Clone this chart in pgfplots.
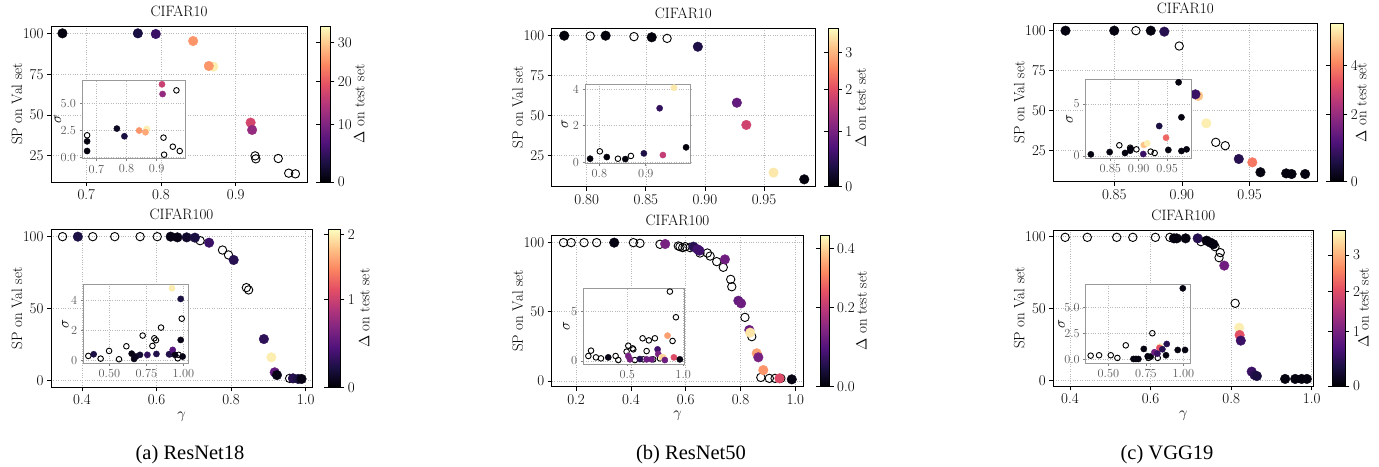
\RequirePackage{fix-cm}
\documentclass[border=0pt]{standalone}
\usepackage{pgfplots}
\pgfplotsset{compat=1.18}
\usepackage{fontspec}
\newfontfamily\capfont{Liberation Serif}
\newcommand\mf{\fontsize{15}{18}\selectfont}
\newcommand\smf{\fontsize{12.3}{14}\selectfont}
\pgfplotsset{
  colormap={magma}{rgb255=(0,0,4) rgb255=(28,16,68) rgb255=(79,18,123) rgb255=(129,37,129) rgb255=(181,54,122) rgb255=(229,80,100) rgb255=(251,135,97) rgb255=(254,194,135) rgb255=(252,253,191)},
  mainax/.style={
    scale only axis, anchor=south west,
    tick align=outside, tick pos=left, major tick length=4pt,
    axis line style={line width=0.8pt},
    every tick/.style={black, line width=0.8pt},
    grid=major, grid style={dotted, gray!55, line width=0.6pt},
    tick label style={font=\mf},
    label style={font=\mf},
    title style={font=\mf, inner sep=0pt, yshift=3pt},
    /pgf/number format/assume math mode=true,
    ylabel={SP on Val set},
    every axis y label/.style={at={(axis description cs:0,0.5)}, anchor=center, xshift=-34pt, rotate=90, font=\mf},
    colormap name=magma,
    colorbar,
    colorbar shift/.style={xshift=13pt},
    point meta min=0,
  },
  cbar/.style 2 args={colorbar style={width=#1, tick align=outside, major tick length=4pt,
    every tick/.style={black, line width=0.8pt}, axis line style={line width=0.6pt},
    tick label style={font=\mf}, ylabel={$\Delta$ on test set},
    every axis y label/.style={at={(axis description cs:1,0.5)}, anchor=center, xshift=#2, rotate=90, font=\mf},
    /pgf/number format/assume math mode=true}},
  insetax/.style={
    scale only axis, anchor=south west,
    axis background/.style={fill=white},
    axis line style={gray!80, line width=0.9pt},
    tick align=outside, tick pos=left, major tick length=2.5pt,
    every tick/.style={gray, line width=0.6pt},
    grid=major, grid style={dotted, gray!55, line width=0.5pt},
    tick label style={font=\smf, text=black!65},
    ylabel={$\sigma$},
    every axis y label/.style={at={(axis description cs:0,0.5)}, anchor=center, xshift=#1, rotate=90, font=\mf},
    /pgf/number format/assume math mode=true,
    colormap name=magma, point meta min=0,
  },
  filledpts/.style={scatter, only marks, mark=*, mark size=#1,
    scatter/use mapped color={draw=mapped color, fill=mapped color},
    point meta={\thisrow{d}^0.8}},
  openpts/.style={only marks, mark=o, mark size=#1, black, mark options={line width=0.9pt, draw=black}},
}
\newcommand\sci{\node[anchor=south west, inner sep=0pt, font=\fontsize{8}{9}\selectfont, text=black!60] at (rel axis cs:0,1.02) {$\times10^{-3}$};}
\begin{document}
\begin{tikzpicture}
\path[use as bounding box] (0,0) rectangle (1379pt,466pt);

% ================= (a) top
\begin{axis}[mainax, cbar={10pt}{29pt}, at={(51pt,284pt)}, width=256pt, height=156pt,
  xmin=0.6527, xmax=0.9955, ymin=8.9, ymax=104.5,
  xtick={0.7,0.8,0.9}, xticklabels={0.7,0.8,0.9}, ytick={25,50,75,100},
  title={CIFAR10}, point meta max=17.03,
  colorbar style={ytick={0,6.310,10.986,15.197}, yticklabels={0,10,20,30}}]
\addplot[openpts=4.2pt] table[row sep=\\]{x y\\ 0.926 24.9\\ 0.927 23.1\\ 0.957 23.3\\ 0.971 14.3\\ 0.980 13.9\\};
\addplot[filledpts=4.8pt] table[row sep=\\]{x y d\\ 0.668 100 0.3\\ 0.769 100 2.4\\ 0.793 99.6 4.6\\ 0.843 95.3 25.4\\ 0.870 79.6 33.3\\ 0.864 80 25.4\\ 0.920 45.3 17.5\\ 0.922 40.8 11.7\\};
\end{axis}
\begin{axis}[insetax=-24pt, at={(82pt,307.3pt)}, width=103pt, height=78.7pt,
  xmin=0.652, xmax=0.9945, ymin=-0.09, ymax=7.2, point meta max=17.03,
  xtick={0.7,0.8,0.9}, xticklabels={0.7,0.8,0.9}, ytick={0,2.5,5}, yticklabels={0.0,2.5,5.0}]
\addplot[openpts=2.8pt] table[row sep=\\]{x y\\ 0.669 2.08\\ 0.966 6.24\\ 0.923 1.86\\ 0.954 1.02\\ 0.977 0.62\\ 0.925 0.28\\};
\addplot[filledpts=3.1pt] table[row sep=\\]{x y d\\ 0.669 1.52 0.3\\ 0.669 0.62 0.3\\ 0.768 2.70 1.0\\ 0.793 1.99 2.4\\ 0.842 2.52 25.4\\ 0.867 2.67 33.3\\ 0.863 2.36 27\\ 0.918 6.80 16.4\\ 0.920 5.90 11.7\\};
\sci
\end{axis}

% ================= (a) bottom
\begin{axis}[mainax, cbar={12pt}{24pt}, at={(51pt,78.7pt)}, width=261pt, height=158pt,
  colorbar shift/.style={xshift=10.5pt},
  xmin=0.317, xmax=1.017, ymin=-4.6, ymax=105.1,
  xtick={0.4,0.6,0.8,1.0}, xticklabels={0.4,0.6,0.8,1.0}, ytick={0,50,100},
  title={CIFAR100}, xlabel={$\gamma$}, point meta max=1.803,
  colorbar style={ytick={0,1,1.741}, yticklabels={0,1,2}}]
\addplot[openpts=4.2pt] table[row sep=\\]{x y\\ 0.348 100\\ 0.429 100\\ 0.488 100\\ 0.556 100\\ 0.602 100\\ 0.717 97.2\\ 0.777 90.7\\ 0.793 87.3\\ 0.841 64.6\\ 0.847 63\\ 0.957 1.6\\ 0.966 1.6\\};
\addplot[filledpts=4.8pt] table[row sep=\\]{x y d\\ 0.389 100 0.16\\ 0.638 100 0.03\\ 0.656 99.5 0.03\\ 0.681 99.5 0.09\\ 0.703 99.3 0.15\\ 0.741 95.8 0.28\\ 0.807 83.8 0.195\\ 0.888 28.9 0.23\\ 0.908 16.2 2.01\\ 0.917 5.8 0.46\\ 0.923 3.9 0.03\\ 0.966 1.6 0.195\\ 0.980 1.2 0.15\\ 0.989 1.2 0.03\\};
\end{axis}
\begin{axis}[insetax=-18pt, at={(83.3pt,102.7pt)}, width=105.4pt, height=79pt,
  xmin=0.324, xmax=1.036, ymin=-0.18, ymax=5.06, point meta max=1.803,
  xtick={0.5,0.75,1.0}, xticklabels={0.50,0.75,1.00}, ytick={0,2,4}]
\addplot[openpts=2.8pt] table[row sep=\\]{x y\\ 0.358 0.31\\ 0.441 0.13\\ 0.498 0.64\\ 0.565 0.09\\ 0.615 0.95\\ 0.725 1.66\\ 0.804 1.48\\ 0.815 1.35\\ 0.791 0.97\\ 0.849 2.19\\ 0.989 2.78\\ 0.910 0.42\\ 0.962 0.15\\ 0.968 0.38\\};
\addplot[filledpts=3.1pt] table[row sep=\\]{x y d\\ 0.394 0.42 0.16\\ 0.651 0.46 0.03\\ 0.667 0.11 0.03\\ 0.680 0.27 0.05\\ 0.707 0.38 0.1\\ 0.757 0.38 0.25\\ 0.818 0.44 0.18\\ 0.903 0.42 0.18\\ 0.928 0.71 0.4\\ 0.923 4.80 2.0\\ 0.982 4.09 0.15\\ 0.982 1.37 0.03\\ 0.944 0.38 0.03\\ 0.995 0.27 0.03\\};
\sci
\end{axis}

% ================= (b) top
\begin{axis}[mainax, cbar={9.5pt}{23pt}, at={(551.7pt,279.3pt)}, width=263.3pt, height=158.4pt,
  xmin=0.7704, xmax=0.9931, ymin=5.6, ymax=104.6,
  xtick={0.80,0.85,0.90,0.95}, xticklabels={0.80,0.85,0.90,0.95}, ytick={25,50,75,100},
  title={CIFAR10}, point meta max=2.848,
  colorbar style={ytick={0,1,1.741,2.408}, yticklabels={0,1,2,3}}]
\addplot[openpts=4.2pt] table[row sep=\\]{x y\\ 0.803 99.8\\ 0.840 99.4\\ 0.868 98.3\\};
\addplot[filledpts=4.8pt] table[row sep=\\]{x y d\\ 0.781 100 0.02\\ 0.816 100 0.02\\ 0.855 99 0.02\\ 0.894 93.1 0.29\\ 0.927 58.1 0.82\\ 0.935 44.2 1.83\\ 0.958 14.4 3.5\\ 0.984 10.2 0.02\\};
\end{axis}
\begin{axis}[insetax=-20pt, at={(585pt,302.7pt)}, width=105.7pt, height=79.3pt,
  xmin=0.769, xmax=0.997, ymin=-0.05, ymax=4.27, point meta max=2.848,
  xtick={0.8,0.9}, xticklabels={0.8,0.9}, ytick={0,2,4}]
\addplot[openpts=2.8pt] table[row sep=\\]{x y\\ 0.801 0.60\\ 0.840 0.20\\ 0.868 0.35\\};
\addplot[filledpts=3.1pt] table[row sep=\\]{x y d\\ 0.780 0.20 0.02\\ 0.816 0.29 0.02\\ 0.856 0.18 0.02\\ 0.896 0.49 0.29\\ 0.930 2.95 0.43\\ 0.937 0.40 1.7\\ 0.961 4.07 3.5\\ 0.987 0.82 0.02\\};
\sci
\end{axis}

% ================= (b) bottom
\begin{axis}[mainax, cbar={9.5pt}{32pt}, at={(551.7pt,79.3pt)}, width=251.6pt, height=151.7pt,
  colorbar shift/.style={xshift=12.7pt},
  xmin=0.111, xmax=1.029, ymin=-4.1, ymax=105.3,
  xtick={0.2,0.4,0.6,0.8,1.0}, xticklabels={0.2,0.4,0.6,0.8,1.0}, ytick={0,50,100},
  title={CIFAR100}, xlabel={$\gamma$}, point meta max=0.527,
  colorbar style={ytick={0,0.2760,0.4805}, yticklabels={0.0,0.2,0.4}}]
\addplot[openpts=4.2pt] table[row sep=\\]{x y\\ 0.154 99.8\\ 0.182 99.8\\ 0.229 99.8\\ 0.275 99.8\\ 0.409 99.8\\ 0.433 99.3\\ 0.506 98.6\\ 0.573 97.4\\ 0.579 96.9\\ 0.598 96.9\\ 0.589 96.2\\ 0.616 96.2\\ 0.652 92.3\\ 0.679 92.3\\ 0.689 90.1\\ 0.713 86.1\\ 0.737 82\\ 0.764 73.3\\ 0.768 68\\ 0.816 45.9\\ 0.841 32\\ 0.874 2.6\\ 0.905 1.9\\ 0.926 1.9\\ 0.947 1.9\\};
\addplot[filledpts=4.8pt] table[row sep=\\]{x y d\\ 0.339 99.8 0.005\\ 0.525 98.8 0.121\\ 0.628 96.9 0.042\\ 0.643 95 0.067\\ 0.650 94 0.067\\ 0.743 87.7 0.112\\ 0.792 57.9 0.100\\ 0.802 56 0.110\\ 0.832 36.8 0.110\\ 0.835 34.9 0.421\\ 0.859 20 0.340\\ 0.865 17.1 0.121\\ 0.883 7.9 0.329\\ 0.942 1.9 0.237\\ 0.987 1.2 0.005\\};
\end{axis}
\begin{axis}[insetax=-17pt, at={(583.3pt,102pt)}, width=101pt, height=75.7pt,
  xmin=0.107, xmax=1.01, ymin=-0.3, ymax=7.36, point meta max=0.527,
  xtick={0.5,1.0}, xticklabels={0.5,1.0}, ytick={0,5}]
\addplot[openpts=2.8pt] table[row sep=\\]{x y\\ 0.152 0.51\\ 0.176 1.05\\ 0.220 0.37\\ 0.265 0.27\\ 0.396 0.51\\ 0.420 0.10\\ 0.494 0.95\\ 0.509 1.55\\ 0.548 1.28\\ 0.554 1.18\\ 0.637 2.30\\ 0.693 2.09\\ 0.747 2.30\\ 0.673 1.01\\ 0.881 7.03\\ 0.935 4.43\\ 0.905 2.03\\ 0.643 0.17\\ 0.732 0.17\\ 0.568 0.10\\ 0.792 0.27\\};
\addplot[filledpts=3.1pt] table[row sep=\\]{x y d\\ 0.330 0.37 0.005\\ 0.509 0.51 0.121\\ 0.524 0.17 0.121\\ 0.613 0.20 0.042\\ 0.673 0.17 0.110\\ 0.717 0.17 0.110\\ 0.771 1.18 0.067\\ 0.777 0.71 0.121\\ 0.807 0.37 0.421\\ 0.821 0.37 0.40\\ 0.836 0.10 0.110\\ 0.860 2.57 0.340\\ 0.917 0.37 0.237\\ 0.970 0.17 0.005\\};
\sci
\end{axis}

% ================= (c) top
\begin{axis}[mainax, cbar={13pt}{18pt}, at={(1053.3pt,284.3pt)}, width=264pt, height=158.4pt,
  colorbar shift/.style={xshift=12.7pt},
  xmin=0.805, xmax=1.0, ymin=5.6, ymax=104.6,
  xtick={0.85,0.90,0.95}, xticklabels={0.85,0.90,0.95}, ytick={25,50,75,100},
  title={CIFAR10}, point meta max=4.114,
  colorbar style={ytick={0,1.741,3.031}, yticklabels={0,2,4}}]
\addplot[openpts=4.2pt] table[row sep=\\]{x y\\ 0.866 100\\ 0.898 90.4\\ 0.925 30.2\\ 0.932 28.1\\};
\addplot[filledpts=4.8pt] table[row sep=\\]{x y d\\ 0.814 100 0.05\\ 0.850 100 0.05\\ 0.877 100 0.05\\ 0.887 99.4 0.55\\ 0.912 59.2 4.99\\ 0.910 60.2 0.78\\ 0.918 42.1 5.64\\ 0.942 19.8 0.55\\ 0.952 17.7 3.88\\ 0.958 11.5 0.05\\ 0.977 10.8 0.05\\ 0.981 10.4 0.05\\ 0.991 10.4 0.05\\};
\end{axis}
\begin{axis}[insetax=-16pt, at={(1085.7pt,307.7pt)}, width=106pt, height=79.3pt,
  xmin=0.807, xmax=0.993, ymin=-0.22, ymax=7.4, point meta max=4.114,
  xtick={0.85,0.90,0.95}, xticklabels={0.85,0.90,0.95}, ytick={0,5}]
\addplot[openpts=2.8pt] table[row sep=\\]{x y\\ 0.866 1.03\\ 0.885 0.80\\ 0.896 0.64\\ 0.921 0.42\\ 0.928 0.29\\};
\addplot[filledpts=3.1pt] table[row sep=\\]{x y d\\ 0.816 0.16 0.05\\ 0.849 0.38 0.05\\ 0.876 0.29 0.05\\ 0.885 0.51 0.05\\ 0.886 0.70 0.05\\ 0.908 0.19 0.78\\ 0.909 1.06 4.99\\ 0.915 1.22 5.64\\ 0.936 2.88 0.4\\ 0.948 1.76 3.6\\ 0.952 0.58 0.05\\ 0.970 7.08 0.05\\ 0.975 3.72 0.05\\ 0.975 0.48 0.05\\ 0.984 0.64 0.05\\};
\sci
\end{axis}

% ================= (c) bottom
\begin{axis}[mainax, cbar={13pt}{18pt}, at={(1053.3pt,80pt)}, width=260pt, height=156pt,
  colorbar shift/.style={xshift=8.7pt},
  xmin=0.3586, xmax=1.004, ymin=-3.7, ymax=104.6,
  xtick={0.4,0.6,0.8,1.0}, xticklabels={0.4,0.6,0.8,1.0}, ytick={0,50,100},
  title={CIFAR100}, xlabel={$\gamma$}, point meta max=2.867,
  colorbar style={ytick={0,1,1.741,2.408}, yticklabels={0,1,2,3}}]
\addplot[openpts=4.2pt] table[row sep=\\]{x y\\ 0.388 99.5\\ 0.443 99.5\\ 0.516 99.5\\ 0.556 99.5\\ 0.612 99.5\\ 0.648 99.5\\ 0.725 96.5\\ 0.760 93\\ 0.773 88.9\\ 0.770 85.4\\ 0.810 53.7\\};
\addplot[filledpts=4.8pt] table[row sep=\\]{x y d\\ 0.658 98.8 0.03\\ 0.665 98.8 0.03\\ 0.687 98.8 0.03\\ 0.717 98.8 0.35\\ 0.739 97.2 0.03\\ 0.749 95.8 0.03\\ 0.756 94.7 0.03\\ 0.783 79.9 0.93\\ 0.820 36.8 3.59\\ 0.821 31.7 2.05\\ 0.824 27.8 0.50\\ 0.851 6.3 0.50\\ 0.858 3.9 0.35\\ 0.864 3.2 0.26\\ 0.934 1.2 0.03\\ 0.959 1.2 0.03\\ 0.975 1.2 0.03\\ 0.988 1.2 0.03\\};
\end{axis}
\begin{axis}[insetax=-24pt, at={(1085.7pt,102.7pt)}, width=104.3pt, height=79pt,
  xmin=0.349, xmax=1.044, ymin=-0.39, ymax=7.26, point meta max=2.867,
  xtick={0.5,0.75,1.0}, xticklabels={0.50,0.75,1.00}, ytick={0,2.5,5}, yticklabels={0.0,2.5,5.0}]
\addplot[openpts=2.8pt] table[row sep=\\]{x y\\ 0.382 0.35\\ 0.438 0.39\\ 0.516 0.39\\ 0.560 0.13\\ 0.793 2.52\\ 0.767 0.13\\ 0.616 1.35\\ 0.829 0.13\\};
\addplot[filledpts=3.1pt] table[row sep=\\]{x y d\\ 0.667 0.03 0.03\\ 0.684 0.03 0.03\\ 0.700 0.03 0.03\\ 0.736 1.00 0.03\\ 0.762 0.29 0.03\\ 0.782 0.26 0.03\\ 0.807 0.68 0.93\\ 0.844 1.23 3.59\\ 0.840 1.10 2.05\\ 0.860 0.97 0.35\\ 0.889 1.48 0.35\\ 0.884 0.39 0.03\\ 0.827 0.55 0.50\\ 0.962 0.90 0.03\\ 1.011 0.90 0.03\\ 0.996 6.87 0.03\\};
\sci
\end{axis}

% captions
\node[anchor=base, font=\capfont\fontsize{20.5}{24}\selectfont] at (190pt,6pt) {(a) ResNet18};
\node[anchor=base, font=\capfont\fontsize{20.5}{24}\selectfont] at (691pt,6pt) {(b) ResNet50};
\node[anchor=base, font=\capfont\fontsize{20.5}{24}\selectfont] at (1167pt,6pt) {(c) VGG19};
\end{tikzpicture}
\end{document}
